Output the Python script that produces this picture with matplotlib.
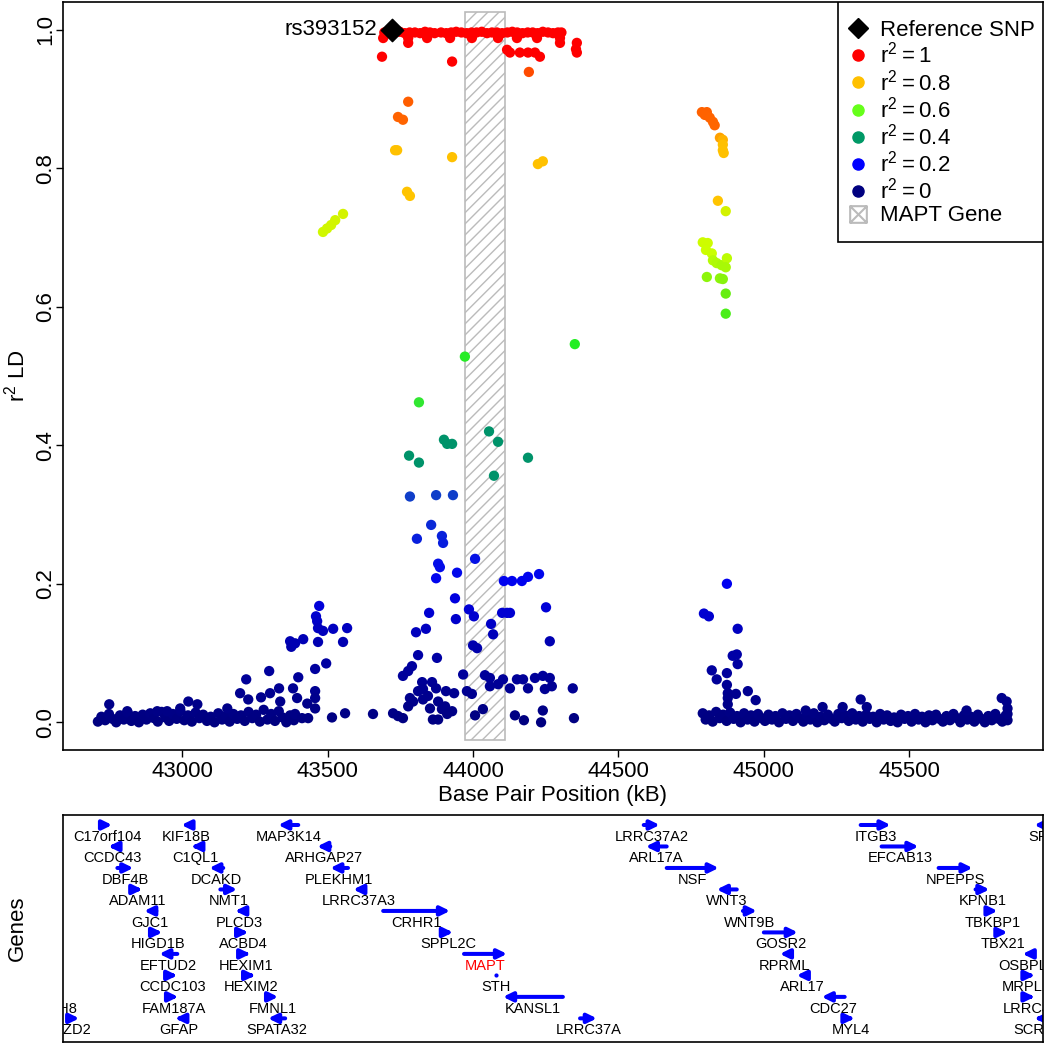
import matplotlib
matplotlib.use('Agg')
import matplotlib.pyplot as plt
from matplotlib.colors import LinearSegmentedColormap
from matplotlib.lines import Line2D
from matplotlib.patches import Rectangle, FancyArrowPatch
from matplotlib.path import Path

plt.rcParams['font.family'] = ['Liberation Sans', 'DejaVu Sans']
plt.rcParams['mathtext.fontset'] = 'custom'
plt.rcParams['mathtext.rm'] = 'Liberation Sans'
plt.rcParams['hatch.color'] = '#bbbbbb'
plt.rcParams['hatch.linewidth'] = 1.0

# Reference SNP
ref_name = 'rs393152'
ref_kb = 43722
ref_r2 = 1.0

# MAPT gene region (kB)
mapt_start = 43972
mapt_end = 44110

# SNPs in strong LD near the top
top_kb = [43695, 43712, 43730, 43748, 43765, 43782, 43800, 43818, 43835, 43852, 43868,
          43890, 43908, 43925, 43942, 43960, 43978, 43995, 44012, 44030, 44048, 44065,
          44082, 44100, 44118, 44135, 44152, 44170, 44188, 44205, 44222, 44240, 44258,
          44275, 44292, 44304,
          43691, 43777, 43842, 43921, 43996, 44086, 44151, 44220, 44299,
          43777, 44299, 44357, 43687, 43928, 44117, 44127, 44161, 44189, 44213, 44230,
          44354, 44357, 44192]
top_r2 = [0.996, 0.995, 0.996, 0.997, 0.995, 0.996, 0.996, 0.995, 0.997, 0.996, 0.995,
          0.996, 0.995, 0.996, 0.997, 0.996, 0.995, 0.996, 0.996, 0.997, 0.995, 0.996,
          0.996, 0.995, 0.996, 0.997, 0.996, 0.995, 0.996, 0.996, 0.995, 0.997, 0.996,
          0.995, 0.996, 0.996,
          0.988, 0.988, 0.988, 0.988, 0.988, 0.988, 0.988, 0.988, 0.988,
          0.981, 0.981, 0.981, 0.961, 0.954, 0.971, 0.967, 0.967, 0.967, 0.967, 0.961,
          0.972, 0.967, 0.939]

# r2 between 0.55 and 0.9
upper_kb = [43777, 43742, 43759, 43732, 43739, 43928, 44223, 44240, 43773, 43783,
            43484, 43498, 43512, 43526, 43553,
            44787, 44804, 44797, 44814, 44825, 44831, 44849, 44859, 44859, 44859, 44862,
            44842, 44869,
            44790, 44807, 44801, 44821, 44825, 44838, 44855, 44873, 44869, 44804, 44849,
            44859, 44869, 44869]
upper_r2 = [0.896, 0.874, 0.870, 0.826, 0.826, 0.816, 0.806, 0.810, 0.766, 0.760,
            0.708, 0.713, 0.718, 0.725, 0.734,
            0.881, 0.881, 0.877, 0.873, 0.867, 0.862, 0.844, 0.841, 0.834, 0.826, 0.822,
            0.753, 0.738,
            0.693, 0.692, 0.682, 0.677, 0.667, 0.663, 0.660, 0.670, 0.657, 0.643, 0.641,
            0.640, 0.619, 0.590]

# middle cluster, r2 0.07 - 0.55
mid_kb = [43972, 44350, 43814,
          43900, 43911, 43928, 44055, 44086, 44189, 44072, 43780, 43814,
          43783, 43873, 43931, 43856, 43807, 43893, 43897,
          44007, 43880, 43886, 43945, 43873, 44106, 44134, 44168, 44189, 44227,
          43938, 44251, 43849, 43941, 43986, 44003, 44100, 44117, 44127,
          44062, 44069, 43804, 43838, 44264, 44000, 44014, 43811, 43876, 43966, 43790,
          43777, 43759]
mid_r2 = [0.528, 0.546, 0.462,
          0.408, 0.402, 0.402, 0.420, 0.405, 0.382, 0.356, 0.385, 0.375,
          0.326, 0.328, 0.328, 0.285, 0.265, 0.269, 0.259,
          0.236, 0.229, 0.224, 0.216, 0.208, 0.204, 0.204, 0.204, 0.210, 0.214,
          0.179, 0.166, 0.158, 0.149, 0.163, 0.153, 0.158, 0.158, 0.158,
          0.142, 0.127, 0.130, 0.135, 0.117, 0.111, 0.107, 0.097, 0.093, 0.069, 0.081,
          0.074, 0.067]

# middle cluster, low r2
lowmid_kb = [43825, 43859, 43828, 43873, 43907, 43935, 43979, 43996, 44041, 44058,
             44058, 44086, 44103, 44127, 44151, 44172, 44189, 44213, 44240, 44264,
             44271, 44247, 44343,
             43783, 43794, 43777, 43828, 43852, 43880, 43893, 43904, 43928, 43911,
             43880, 43862, 43742, 43725, 43656, 43759, 44007, 44034, 44144, 44175,
             44240, 44234, 44347, 43560, 43811, 43845]
lowmid_r2 = [0.058, 0.058, 0.048, 0.049, 0.045, 0.042, 0.045, 0.041, 0.068, 0.064,
             0.052, 0.055, 0.062, 0.049, 0.062, 0.062, 0.049, 0.064, 0.067, 0.064,
             0.052, 0.048, 0.049,
             0.035, 0.030, 0.023, 0.033, 0.020, 0.030, 0.019, 0.023, 0.016, 0.012,
             0.004, 0.004, 0.009, 0.013, 0.012, 0.006, 0.010, 0.019, 0.010, 0.003,
             0.017, 0.000, 0.006, 0.013, 0.045, 0.038]

# left cluster, above the band
left_kb = [42749, 42811, 42914, 42948, 42993, 43021, 43052, 43155, 43199, 43227,
           43220, 43271, 43299, 43302, 43333, 43337, 43381, 43399, 43395, 43430,
           43457, 43457, 43457, 43457, 43495, 43515,
           43471, 43460, 43464, 43467, 43484, 43519, 43567, 43553, 43467, 43371,
           43375, 43388, 43416, 43388, 43412, 43433]
left_r2 = [0.026, 0.016, 0.016, 0.016, 0.020, 0.030, 0.026, 0.020, 0.042, 0.033,
           0.062, 0.036, 0.074, 0.042, 0.049, 0.030, 0.049, 0.065, 0.035, 0.027,
           0.077, 0.045, 0.035, 0.020, 0.085, 0.007,
           0.168, 0.153, 0.146, 0.136, 0.132, 0.135, 0.136, 0.116, 0.116, 0.117,
           0.109, 0.114, 0.120, 0.012, 0.006, 0.006]

# left band, r2 near 0
lband_kb = [42710, 42722, 42735, 42748, 42760, 42773, 42786, 42799, 42812, 42825,
            42838, 42851, 42864, 42877, 42890, 42903, 42916, 42929, 42942, 42955,
            42968, 42981, 42994, 43007, 43020, 43033, 43046, 43059, 43072, 43085,
            43098, 43111, 43124, 43137, 43150, 43163, 43176, 43189, 43202, 43215,
            43228, 43241, 43254, 43267, 43280, 43293, 43306, 43319, 43332, 43345,
            43358, 43371, 43384]
lband_r2 = [0.001, 0.008, 0.003, 0.012, 0.005, 0.000, 0.010, 0.004, 0.014, 0.002,
            0.009, 0.000, 0.011, 0.004, 0.013, 0.006, 0.001, 0.015, 0.007, 0.002,
            0.012, 0.005, 0.016, 0.003, 0.010, 0.001, 0.014, 0.006, 0.011, 0.002,
            0.008, 0.000, 0.013, 0.004, 0.009, 0.001, 0.012, 0.005, 0.010, 0.002,
            0.015, 0.006, 0.011, 0.001, 0.018, 0.004, 0.012, 0.002, 0.016, 0.007,
            0.000, 0.010, 0.003]

# right cluster, above the band
right_kb = [45144, 45202, 45271, 45333, 45354, 45697, 45818, 45835, 45838, 45838,
            44873, 44794, 44811, 44910, 44907, 44893, 44910, 44821, 44873, 44838,
            44873, 44876, 44904, 44945, 44972, 44876, 44876]
right_r2 = [0.017, 0.022, 0.022, 0.033, 0.022, 0.017, 0.035, 0.030, 0.020, 0.012,
            0.200, 0.157, 0.153, 0.135, 0.098, 0.096, 0.084, 0.075, 0.071, 0.062,
            0.054, 0.042, 0.041, 0.045, 0.032, 0.035, 0.026]

# right band, r2 near 0
rband_kb = [44790, 44800, 44812, 44824, 44836, 44848, 44860, 44872, 44884, 44896,
            44908, 44920, 44932, 44944, 44956, 44968, 44980, 44992, 45004, 45016,
            45028, 45040, 45052, 45064, 45076, 45088, 45100, 45112, 45124, 45136,
            45148, 45160, 45172, 45184, 45196, 45208, 45220, 45232, 45244, 45256,
            45268, 45280, 45292, 45304, 45316, 45328, 45340, 45352, 45364, 45376,
            45388, 45400, 45412, 45424, 45436, 45448, 45460, 45472, 45484, 45496,
            45508, 45520, 45532, 45544, 45556, 45568, 45580, 45592, 45604, 45616,
            45628, 45640, 45652, 45664, 45676, 45688, 45700, 45712, 45724, 45736,
            45748, 45760, 45772, 45784, 45796, 45808, 45820, 45832, 45838]
rband_r2 = [0.013, 0.004, 0.010, 0.001, 0.015, 0.006, 0.011, 0.002, 0.014, 0.005,
            0.009, 0.000, 0.013, 0.004, 0.010, 0.001, 0.012, 0.006, 0.002, 0.011,
            0.004, 0.009, 0.000, 0.013, 0.005, 0.010, 0.002, 0.012, 0.006, 0.001,
            0.010, 0.004, 0.013, 0.000, 0.008, 0.003, 0.011, 0.005, 0.001, 0.012,
            0.006, 0.010, 0.002, 0.013, 0.004, 0.009, 0.001, 0.011, 0.005, 0.008,
            0.000, 0.012, 0.004, 0.010, 0.002, 0.007, 0.000, 0.011, 0.005, 0.009,
            0.001, 0.012, 0.004, 0.008, 0.000, 0.010, 0.003, 0.011, 0.005, 0.001,
            0.009, 0.003, 0.012, 0.006, 0.000, 0.010, 0.004, 0.008, 0.001, 0.011,
            0.005, 0.000, 0.009, 0.003, 0.012, 0.005, 0.001, 0.010, 0.003]

# Genes: name, start, end (kB), strand, row in the gene track
gene_names = ['C17orf104', 'KIF18B', 'MAP3K14', 'LRRC37A2', 'ITGB3', 'SP6',
              'CCDC43', 'C1QL1', 'ARHGAP27', 'ARL17A', 'EFCAB13', 'SP2',
              'DBF4B', 'DCAKD', 'PLEKHM1', 'NSF', 'NPEPPS',
              'ADAM11', 'NMT1', 'LRRC37A3', 'WNT3', 'KPNB1',
              'GJC1', 'PLCD3', 'CRHR1', 'WNT9B', 'TBKBP1',
              'HIGD1B', 'ACBD4', 'SPPL2C', 'GOSR2', 'TBX21',
              'EFTUD2', 'HEXIM1', 'MAPT', 'RPRML', 'OSBPL7',
              'CCDC103', 'HEXIM2', 'STH', 'ARL17', 'MRPL10',
              'GPATCH8', 'FAM187A', 'FMNL1', 'KANSL1', 'CDC27', 'LRRC46',
              'FZD2', 'GFAP', 'SPATA32', 'LRRC37A', 'MYL4', 'SCRN2']
gene_start = [42725, 42997, 43330, 44587, 45333, 45930,
              42746, 43031, 43464, 44594, 45405, 45990,
              42777, 43093, 43509, 44666, 45601,
              42832, 43131, 43588, 44838, 45728,
              42869, 43182, 43691, 44928, 45769,
              42900, 43196, 43900, 45000, 45804,
              42921, 43206, 43969, 45055, 45890,
              42952, 43223, 44079, 45113, 45903,
              42468, 42955, 43292, 44103, 45199, 45903,
              42605, 42976, 43295, 44368, 45285, 45931]
gene_end = [42759, 43031, 43399, 44642, 45436, 45985,
            42777, 43058, 43509, 44666, 45532, 46030,
            42832, 43141, 43570, 44845, 45718,
            42863, 43189, 43629, 44907, 45776,
            42911, 43213, 43921, 44976, 45804,
            42931, 43227, 43931, 45117, 45838,
            42983, 43234, 44117, 45089, 45921,
            42983, 43251, 44079, 45151, 45931,
            42576, 42986, 43330, 44309, 45278, 45931,
            42646, 43003, 43354, 44426, 45312, 45958]
gene_strand = ['+', '-', '-', '+', '+', '-',
               '-', '-', '-', '-', '+', '+',
               '+', '-', '-', '+', '+',
               '+', '+', '-', '-', '+',
               '-', '-', '+', '+', '+',
               '+', '+', '+', '+', '+',
               '-', '+', '+', '-', '-',
               '+', '+', '+', '-', '+',
               '-', '+', '+', '-', '-', '+',
               '+', '-', '-', '+', '+', '-']
gene_row = [0, 0, 0, 0, 0, 0,
            1, 1, 1, 1, 1, 1,
            2, 2, 2, 2, 2,
            3, 3, 3, 3, 3,
            4, 4, 4, 4, 4,
            5, 5, 5, 5, 5,
            6, 6, 6, 6, 6,
            7, 7, 7, 7, 7,
            8, 8, 8, 8, 8, 8,
            9, 9, 9, 9, 9, 9]

legend_levels = ['1', '0.8', '0.6', '0.4', '0.2', '0']
legend_colors = ['#ff0000', '#ffc000', '#66ff1a', '#009966', '#0000ff', '#000080']

# colour ramp for r2
ld_cmap = LinearSegmentedColormap.from_list('ld', [
    (0.00, '#000080'), (0.10, '#0000a8'), (0.20, '#0000f0'), (0.33, '#1040c8'),
    (0.35, '#00936a'), (0.42, '#00936a'), (0.45, '#33e633'), (0.55, '#22ee22'),
    (0.62, '#66ee11'), (0.68, '#ccff00'), (0.745, '#d4f000'), (0.75, '#ffc400'),
    (0.84, '#ffc000'), (0.86, '#ff6600'), (0.94, '#ff5500'), (0.95, '#ff0000'),
    (1.00, '#ff0000')])

all_kb = lband_kb + rband_kb + left_kb + right_kb + lowmid_kb + mid_kb + upper_kb + top_kb
all_r2 = lband_r2 + rband_r2 + left_r2 + right_r2 + lowmid_r2 + mid_r2 + upper_r2 + top_r2

fig = plt.figure(figsize=(10.45, 10.5), dpi=100)
ax = fig.add_axes([63 / 1045, 300 / 1050, 980 / 1045, 748 / 1050])
ax_g = fig.add_axes([63 / 1045, 8 / 1050, 980 / 1045, 227 / 1050])

# MAPT gene box behind the points
ax.add_patch(Rectangle((mapt_start, -0.025), mapt_end - mapt_start, 1.051,
                       facecolor='white', edgecolor='#bbbbbb', hatch='///',
                       lw=1.2, zorder=1))

ax.scatter(all_kb, all_r2, c=all_r2, cmap=ld_cmap, vmin=0, vmax=1, s=55,
           edgecolors='none', zorder=2)
ax.scatter([ref_kb], [ref_r2], marker='D', s=130, c='black', zorder=3)
ax.annotate(ref_name, (ref_kb, ref_r2), xytext=(-11, 0), textcoords='offset points',
            ha='right', va='center', fontsize=16)

ax.set_xlim(42590, 45960)
ax.set_ylim(-0.04, 1.04)
ax.set_xticks([43000, 43500, 44000, 44500, 45000, 45500])
ax.set_yticks([0, 0.2, 0.4, 0.6, 0.8, 1.0])
ax.set_yticklabels(['0.0', '0.2', '0.4', '0.6', '0.8', '1.0'], rotation=90, va='center')
ax.tick_params(length=5, width=1, labelsize=16)
ax.tick_params(axis='x', pad=3)
ax.tick_params(axis='y', pad=0)
ax.set_xlabel('Base Pair Position (kB)', fontsize=16, labelpad=2)
ax.set_ylabel(r'$\mathregular{r^2}$ LD', fontsize=16, labelpad=4)
for s in ax.spines.values():
    s.set_linewidth(1.2)

# legend: own frame, entries placed inside it
ax.add_patch(Rectangle((0.7908, 0.6791), 0.2092, 0.3209, transform=ax.transAxes,
                       facecolor='white', edgecolor='black', lw=1.2, zorder=4.5))
box_x = Path([(-1, -1), (1, -1), (1, 1), (-1, 1), (-1, -1), (-1, -1), (1, 1), (-1, 1), (1, -1)],
             [Path.MOVETO, Path.LINETO, Path.LINETO, Path.LINETO, Path.CLOSEPOLY,
              Path.MOVETO, Path.LINETO, Path.MOVETO, Path.LINETO])
handles = [Line2D([], [], marker='D', ls='none', color='black', ms=10.5)]
labels = ['Reference SNP']
for lev, col in zip(legend_levels, legend_colors):
    handles.append(Line2D([], [], marker='o', ls='none', mfc=col, mec=col, ms=8))
    labels.append(r'$\mathregular{r^2 = %s}$' % lev)
handles.append(Line2D([], [], marker=box_x, ls='none', mfc='none', mec='#bbbbbb',
                      mew=1.5, ms=12))
labels.append('MAPT Gene')
ax.legend(handles, labels, loc='upper left', bbox_to_anchor=(0.7978, 0.9765),
          fontsize=16, frameon=False, borderaxespad=0, borderpad=0,
          labelspacing=0.06, handlelength=1.2, handletextpad=0.4)

# gene track
for name, start, end, strand, row in zip(gene_names, gene_start, gene_end,
                                         gene_strand, gene_row):
    y = -row
    if end - start < 1:
        ax_g.plot([start], [y], marker='o', ms=3, color='blue', mec='none')
    else:
        tail, head = (start, end) if strand == '+' else (end, start)
        ax_g.add_patch(FancyArrowPatch((tail, y), (head, y),
                                       arrowstyle='-|>,head_length=0.55,head_width=0.27',
                                       mutation_scale=10, lw=2.9, color='blue',
                                       shrinkA=0, shrinkB=0))
    ax_g.text((start + end) / 2, y - 0.55, name, ha='center', va='center',
              fontsize=10.5, color='red' if name == 'MAPT' else 'black', clip_on=True)

ax_g.set_xlim(42590, 45960)
ax_g.set_ylim(-10.1, 0.465)
ax_g.set_xticks([])
ax_g.set_yticks([])
ax_g.set_ylabel('Genes', fontsize=16, labelpad=25)
for s in ax_g.spines.values():
    s.set_linewidth(1.2)

fig.savefig('out.png', dpi=100)
